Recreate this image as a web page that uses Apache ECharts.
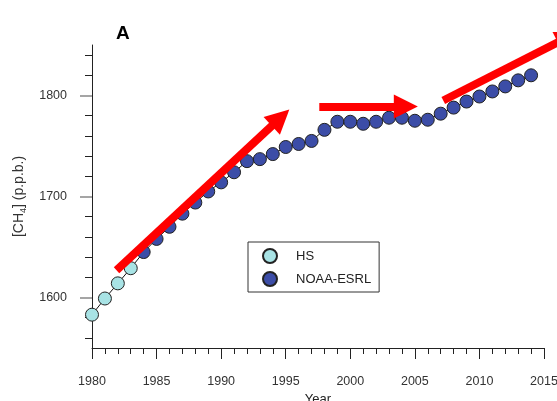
<!DOCTYPE html>
<html>
<head>
<meta charset="utf-8">
<script src="https://cdn.jsdelivr.net/npm/echarts@6/dist/echarts.min.js"></script>
<style>html,body{margin:0;padding:0;background:#fff}#c{width:557px;height:401px}</style>
</head>
<body>
<div id="c"></div>
<script>
var hsYears = [1980, 1981, 1982, 1983];
var hsValues = [1583, 1599, 1614, 1629];
var noaaYears = [1984,1985,1986,1987,1988,1989,1990,1991,1992,1993,1994,1995,1996,1997,1998,1999,2000,2001,2002,2003,2004,2005,2006,2007,2008,2009,2010,2011,2012,2013,2014];
var noaaValues = [1645,1658,1670,1683,1694,1705,1714,1724,1735,1737,1742,1749,1752,1755,1766,1774,1774,1772,1774,1778,1778,1775,1776,1782,1788,1794,1799,1804,1809,1815,1820];
var yLabelValues = [1600, 1700, 1800];
var yMinorValues = [1560,1580,1620,1640,1660,1680,1720,1740,1760,1780,1820,1840];
// trend arrows: [startYear, startValue, endYear, endValue] (end = centre of arrow head)
var arrows = [
  [1981.9, 1627, 1994.6, 1778],
  [1997.6, 1789, 2004.3, 1789],
  [2007.2, 1795, 2016.9, 1858]
];

var allData = hsYears.map(function(y,i){return [y, hsValues[i]];})
  .concat(noaaYears.map(function(y,i){return [y, noaaValues[i]];}));

var plain = function(v){ return String(v); };
var chart = echarts.init(document.getElementById('c'));
var yBase = {
  type: 'value', min: 1550, max: 1850, position: 'left',
  splitLine: {show: false}
};
chart.setOption({
  animation: false,
  backgroundColor: '#fff',
  title: {text: 'A', left: 111, top: 19, textStyle: {fontSize: 19, fontWeight: 'bold', color: '#000', fontFamily: 'Liberation Sans Narrow, Liberation Sans'}},
  grid: {left: 92, right: 13, top: 45, bottom: 53, containLabel: false, outerBoundsMode: 'none'},
  legend: {
    data: ['HS', 'NOAA-ESRL'], orient: 'vertical', left: 248, top: 242,
    icon: 'circle', itemWidth: 14, itemHeight: 14, itemGap: 7,
    padding: [6, 8, 5, 14], borderColor: '#333', borderWidth: 1, borderRadius: 0,
    textStyle: {fontSize: 13, color: '#222', fontFamily: 'Liberation Sans', padding: [0,0,0,14]}
  },
  xAxis: {
    type: 'value', min: 1980, max: 2015, interval: 5,
    name: 'Year', nameLocation: 'middle', nameGap: 40,
    nameTextStyle: {fontSize: 13, color: '#222', fontFamily: 'Liberation Sans'},
    axisLine: {lineStyle: {color: '#222', width: 1}},
    axisTick: {length: 11, lineStyle: {color: '#222'}},
    minorTick: {show: true, splitNumber: 5, length: 6, lineStyle: {color: '#222'}},
    axisLabel: {margin: 27, fontSize: 12.5, color: '#333', fontFamily: 'Liberation Sans', formatter: plain},
    splitLine: {show: false}
  },
  yAxis: [
    Object.assign({}, yBase, {
      name: '[CH{sub|4}] (p.p.b.)', nameLocation: 'middle', nameGap: 62,
      nameTextStyle: {fontSize: 14, color: '#333', fontFamily: 'Liberation Sans',
        rich: {sub: {fontSize: 9, color: '#333', padding: [9, 0, 0, 0], fontFamily: 'Liberation Sans'}}},
      axisLine: {show: true, lineStyle: {color: '#222', width: 1}},
      axisTick: {show: true, length: 12, customValues: yLabelValues, lineStyle: {color: '#888', width: 1.5}},
      axisLabel: {margin: 25, fontSize: 12.5, color: '#333', fontFamily: 'Liberation Sans', customValues: yLabelValues, formatter: plain}
    }),
    Object.assign({}, yBase, {
      axisLine: {show: false},
      axisTick: {show: true, length: 7, customValues: yMinorValues, lineStyle: {color: '#222'}},
      axisLabel: {show: false}
    })
  ],
  series: [
    {type: 'line', data: allData, symbol: 'none', lineStyle: {color: '#111', width: 1}, z: 1, silent: true},
    {name: 'HS', type: 'scatter', data: hsYears.map(function(y,i){return [y, hsValues[i]];}),
      symbol: 'circle', symbolSize: 13, itemStyle: {color: '#a8e3e5', borderColor: '#222', borderWidth: 1, opacity: 1}, z: 2},
    {name: 'NOAA-ESRL', type: 'scatter', data: noaaYears.map(function(y,i){return [y, noaaValues[i]];}),
      symbol: 'circle', symbolSize: 13, itemStyle: {color: '#3c4da7', borderColor: '#222', borderWidth: 1, opacity: 1}, z: 2},
    {type: 'lines', coordinateSystem: 'cartesian2d', clip: false, z: 5, silent: true,
      symbol: ['none', 'triangle'], symbolSize: [22, 24],
      lineStyle: {color: '#ff0000', width: 8, opacity: 1, curveness: 0},
      data: arrows.map(function(a){return {coords: [[a[0], a[1]], [a[2], a[3]]]};})}
  ]
});
</script>
</body>
</html>
